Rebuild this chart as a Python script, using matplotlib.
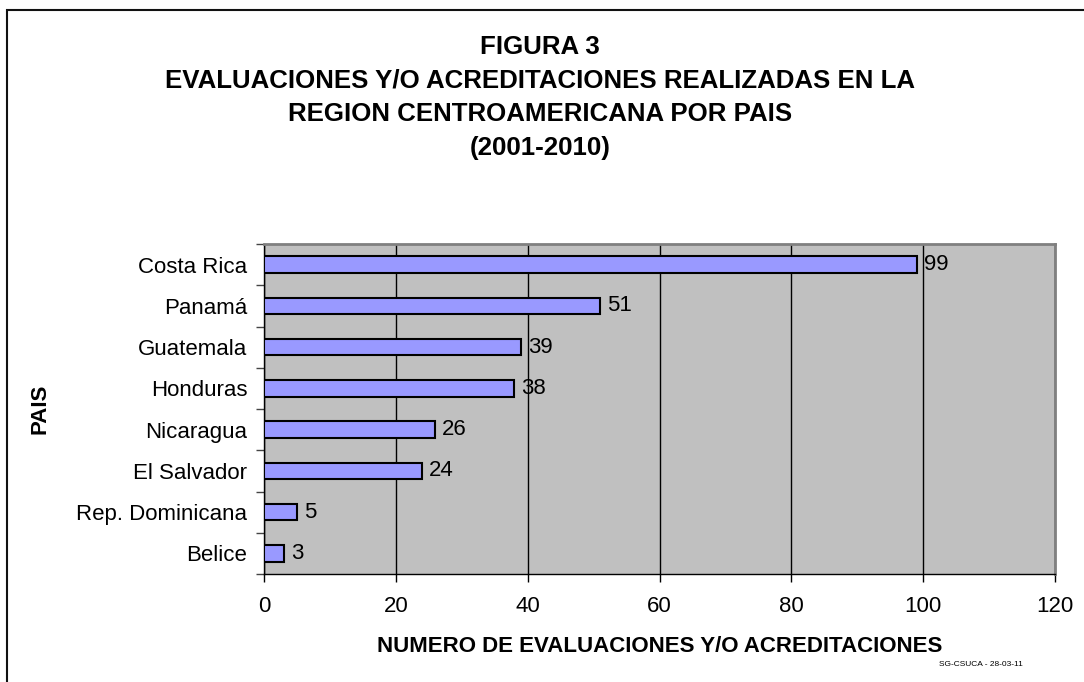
import matplotlib
matplotlib.use("Agg")
import matplotlib.pyplot as plt
from matplotlib.patches import Rectangle
import numpy as np

plt.rcParams['font.family'] = ['Liberation Sans', 'DejaVu Sans']

countries = ["Costa Rica", "Panamá", "Guatemala", "Honduras", "Nicaragua",
             "El Salvador", "Rep. Dominicana", "Belice"]
values = [99, 51, 39, 38, 26, 24, 5, 3]
xticks = [0, 20, 40, 60, 80, 100, 120]

title_lines = ["FIGURA 3",
               "EVALUACIONES Y/O ACREDITACIONES REALIZADAS EN LA",
               "REGION CENTROAMERICANA POR PAIS",
               "(2001-2010)"]

W, H = 1084, 682
fig = plt.figure(figsize=(W / 100, H / 100), dpi=100)

# outer frame
fig.patches.append(Rectangle((7 / W, -0.05), 1.2, (H - 10) / H + 0.05,
                             transform=fig.transFigure, fill=False,
                             edgecolor='#111111', linewidth=1.5))

ax = fig.add_axes([264 / W, 1 - 574 / H, (1055 - 264) / W, (574 - 244) / H])
ax.set_facecolor('#C0C0C0')

n = len(countries)
ypos = np.arange(n)[::-1]
ax.barh(ypos, values, height=0.4, color='#9999FF', edgecolor='black',
        linewidth=1.5, zorder=3)
for y, v in zip(ypos, values):
    ax.annotate(str(v), (v, y), xytext=(5, 0), textcoords='offset points',
                va='center', ha='left', fontsize=16, zorder=4)

ax.set_xlim(0, 120)
ax.set_ylim(-0.5, n - 0.5)
ax.set_xticks(xticks)
ax.set_xticklabels([str(t) for t in xticks], fontsize=16)
ax.set_yticks(ypos)
ax.set_yticklabels(countries, fontsize=16)
ax.set_yticks(np.arange(-0.5, n, 1.0), minor=True)
ax.tick_params(axis='y', which='major', length=0, pad=12)
ax.tick_params(axis='y', which='minor', length=6, width=1, color='#444444')
ax.tick_params(axis='x', which='major', length=6, width=1, direction='out', pad=10)
ax.xaxis.grid(True, color='black', linewidth=1, zorder=1)
ax.set_axisbelow(True)

for s in ['top', 'right']:
    ax.spines[s].set_color('#808080')
    ax.spines[s].set_linewidth(2)
for s in ['left', 'bottom']:
    ax.spines[s].set_color('black')
    ax.spines[s].set_linewidth(1)

fig.text(659.5 / W, 1 - 646 / H, "NUMERO DE EVALUACIONES Y/O ACREDITACIONES",
         fontsize=16, fontweight='bold', ha='center', va='center')
fig.text(40 / W, 1 - 409 / H, "PAIS", rotation=90, fontsize=16,
         fontweight='bold', ha='center', va='center')

ys = [47, 81, 114, 148]
for line, y in zip(title_lines, ys):
    fig.text(540 / W, 1 - y / H, line, fontsize=18.6, fontweight='bold',
             ha='center', va='center')

fig.text(981 / W, 1 - 664 / H, "SG-CSUCA - 28-03-11", fontsize=6,
         ha='center', va='center')

fig.savefig("out.png", dpi=100)
